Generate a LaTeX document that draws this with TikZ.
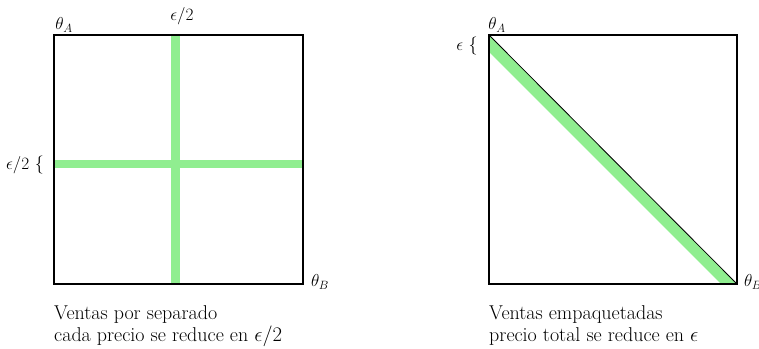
\documentclass[tikz,border=0pt]{standalone}
\definecolor{bandgreen}{HTML}{90EE90}
\tikzset{
  frame/.style={draw=black, line width=1.2pt},
  band/.style={draw=bandgreen, line width=8.5pt},
  lbl/.style={inner sep=0pt, font=\fontsize{18}{21}\selectfont},
  caption/.style={inner sep=0pt, anchor=base west, font=\fontsize{20}{23}\selectfont},
}
\begin{document}
\begin{tikzpicture}[x=1pt, y=-1pt]
\useasboundingbox (0,0) rectangle (759,348);
% left panel
\draw[band] (54,164) -- (303,164);
\draw[band] (175.5,35) -- (175.5,284);
\draw[frame] (54,35) rectangle (303,284);
\node[lbl] (thA1) at (64,25) {$\theta_A$};
\node[lbl] (e2top) at (182,16) {$\epsilon/2$};
\node[lbl] (e2left) at (25,165) {$\epsilon/2$ \{};
\node[lbl] (thB1) at (320,282) {$\theta_B$};
\node[caption] (cap1a) at (54,319) {Ventas por separado};
\node[caption] (cap1b) at (54,341) {cada precio se reduce en $\epsilon/2$};
% right panel
\fill[bandgreen] (489,35) -- (737,284) -- (721,284) -- (489,52) -- cycle;
\draw[line width=0.8pt] (489,35) -- (737,284);
\draw[frame] (489,35) rectangle (737,284);
\node[lbl] (thA2) at (497,25) {$\theta_A$};
\node[lbl] (eps) at (467,46) {$\epsilon$ \{};
\node[lbl] (thB2) at (753,282) {$\theta_B$};
\node[caption] (cap2a) at (489,319) {Ventas empaquetadas};
\node[caption] (cap2b) at (489,341) {precio total se reduce en $\epsilon$};
\end{tikzpicture}
\end{document}
